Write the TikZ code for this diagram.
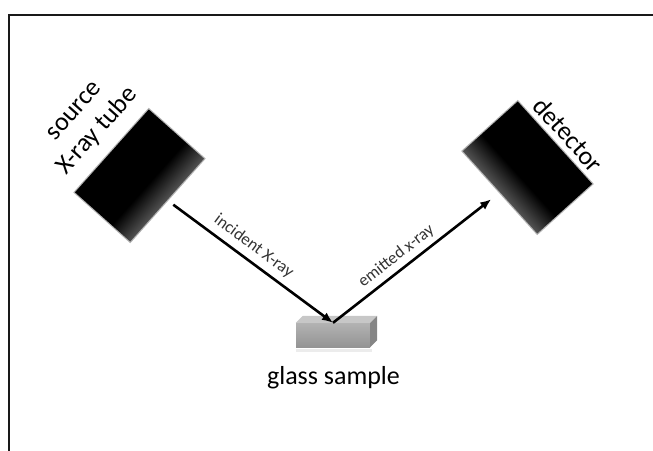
\documentclass[tikz,border=0pt]{standalone}
\usepackage{fontspec}
\setmainfont{Carlito}
\usetikzlibrary{arrows.meta,calc}
% dark box fill: black body fading to dark grey along its lower long side
\pgfdeclareverticalshading{tubefade}{100bp}{color(0bp)=(black!68); color(25bp)=(black!68); color(42bp)=(black); color(100bp)=(black)}
\pgfdeclareverticalshading{glassfront}{100bp}{color(0bp)=(black!42); color(25bp)=(black!42); color(75bp)=(black!30); color(100bp)=(black!30)}
\begin{document}
\begin{tikzpicture}[x=1pt,y=-1pt,
  tube/.style={rectangle, minimum width=111pt, minimum height=74pt, inner sep=0pt},
  tubebody/.style={shading=tubefade},
  tubehalo/.style={fill=black, opacity=0.3},
  biglabel/.style={font=\fontsize{26}{31}\selectfont, align=center, inner xsep=0pt},
  ray/.style={line width=2.6pt, -{Latex[length=11pt,width=9pt]}},
  raylabel/.style={font=\fontsize{17}{20}\selectfont, text=black!80, sloped, above, inner xsep=0pt},
  front/.style={rectangle, minimum width=74pt, minimum height=24pt, inner sep=0pt, shading=glassfront}]
\useasboundingbox (0,0) rectangle (653,450);

% frame
\draw[line width=2pt, black!90] (9,452) -- (9,15) -- (655,15);

% X-ray tube and detector (named outlines, shaded bodies drawn in their own frame)
\node[tube, rotate=48.3] (src) at (139.5,175.5) {};
\node[tube, rotate=-47.9] (det) at (527.5,167.5) {};
\begin{scope}[transform canvas={shift={(src.center)}, rotate=48.3}]
  \fill[tubehalo] (-56.7,-38.2) rectangle (56.7,38.2);
  \shade[tubebody] (-55.5,-37) rectangle (55.5,37);
\end{scope}
\begin{scope}[transform canvas={shift={(det.center)}, rotate=-47.9}]
  \fill[tubehalo] (-56.7,-38.2) rectangle (56.7,38.2);
  \shade[tubebody] (-55.5,-37) rectangle (55.5,37);
\end{scope}

\node[biglabel, rotate=48.3, anchor=south, inner ysep=13pt] (srclabel)
  at ($(src.north)!5pt!(src.north east)$) {source\\X-ray tube};
\node[biglabel, rotate=-47.9, anchor=south, inner ysep=6pt] (detlabel)
  at ($(det.north)!3pt!(det.north east)$) {detector};

% glass sample block
\fill[black!12, opacity=0.6] (296,349) rectangle (372,352);
\node[front] (sample) at (333,335) {};
\fill[black!22] (sample.north west) -- ++(7,-7) -- ($(sample.north east)+(7,-7)$)
  -- (sample.north east) -- cycle;
\fill[black!48] (sample.north east) -- ++(7,-7) -- ($(sample.south east)+(7,-7)$)
  -- (sample.south east) -- cycle;
\node[biglabel, anchor=base] (samplelabel) at ($(sample.south)+(0.5,37)$) {glass sample};

% rays
\draw[ray, shorten <=7.5pt] (src.south) -- (sample.north)
  node[raylabel, pos=0.47, inner ysep=6pt] {incident X-ray};
\draw[ray, shorten >=11pt] (sample.north) -- (det.south)
  node[raylabel, pos=0.43, inner ysep=5pt] {emitted x-ray};
\end{tikzpicture}
\end{document}
